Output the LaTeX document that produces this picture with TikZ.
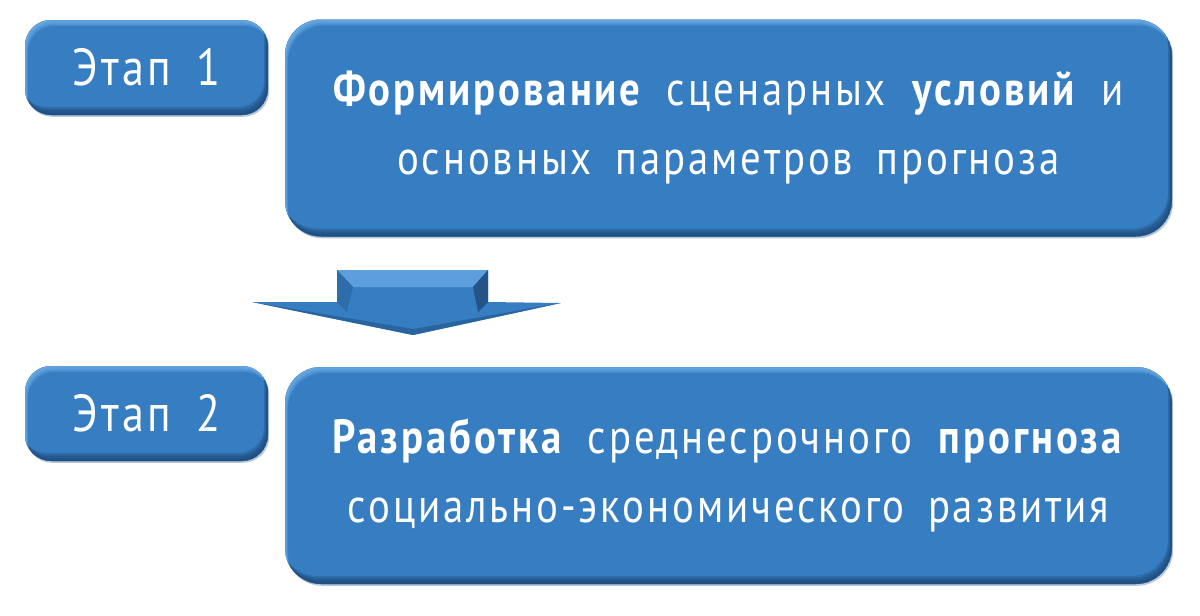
\documentclass[tikz,border=0pt]{standalone}
\usepackage{fontspec}
\setmainfont{PT Sans}[LetterSpace=6,WordSpace=1.7,FakeStretch=0.85]
\usetikzlibrary{shadows}

\definecolor{stageblue}{HTML}{377DC1}
\definecolor{stagelight}{HTML}{7ABBF2}
\definecolor{stagedark}{HTML}{1B4674}

\tikzset{
  bevel/.style={rounded corners=#1, fill=stageblue, text=white, inner sep=0pt,
    drop shadow={shadow xshift=0.6pt, shadow yshift=-0.9pt, opacity=0.3, fill=stagedark},
    path picture={
      \foreach \s in {1,...,5}{
        \fill[stagedark, opacity=0.28, even odd rule, rounded corners=#1]
          (path picture bounding box.south west) rectangle (path picture bounding box.north east)
          ([xshift=-0.4*\s pt,yshift=0.8*\s pt]path picture bounding box.south west) rectangle ([xshift=-0.4*\s pt,yshift=0.8*\s pt]path picture bounding box.north east);
        \fill[stagelight, opacity=0.22, even odd rule, rounded corners=#1]
          (path picture bounding box.south west) rectangle (path picture bounding box.north east)
          ([xshift=0.3*\s pt,yshift=-0.6*\s pt]path picture bounding box.south west) rectangle ([xshift=0.3*\s pt,yshift=-0.6*\s pt]path picture bounding box.north east);
      }
    }},
  stagebox/.style={bevel=13pt, minimum width=121.5pt, minimum height=47.5pt,
    font=\fontsize{26}{28}\selectfont},
  taskbox/.style={bevel=18pt, minimum width=443.5pt, minimum height=108.5pt,
    align=center, font=\fontsize{24}{34.5}\selectfont},
}

\begin{document}
\begin{tikzpicture}[x=0.5pt,y=-0.5pt]
\useasboundingbox (0,0) rectangle (1200,616);

\node[stagebox] (stage1) at (146.5,67.5) {Этап 1};
\node[taskbox] (scen) at (728.5,128) {\textbf{Формирование} сценарных \textbf{условий} и\\основных параметров прогноза};

\node[stagebox] (stage2) at (146.5,413.5) {Этап 2};
\node[taskbox] (fcast) at (728.5,475.5) {\textbf{Разработка} среднесрочного \textbf{прогноза}\\социально-экономического развития};

\fill[stageblue] (337,270) -- (488,270) -- (488,302) -- (561,303) -- (413,335) -- (252,302) -- (337,302) -- cycle;
\fill[stagelight!55!stageblue] (337,270) -- (488,270) -- (473,287) -- (353,287) -- cycle;
\fill[stagedark!30!stageblue] (337,270) -- (353,287) -- (347,312) -- (337,302) -- cycle;
\fill[stagedark!75!stageblue] (488,270) -- (488,302) -- (478,312) -- (473,287) -- cycle;
\fill[stagedark!45!stageblue] (252,302) -- (413,335) -- (561,303) -- (413,329) -- cycle;
\end{tikzpicture}
\end{document}
